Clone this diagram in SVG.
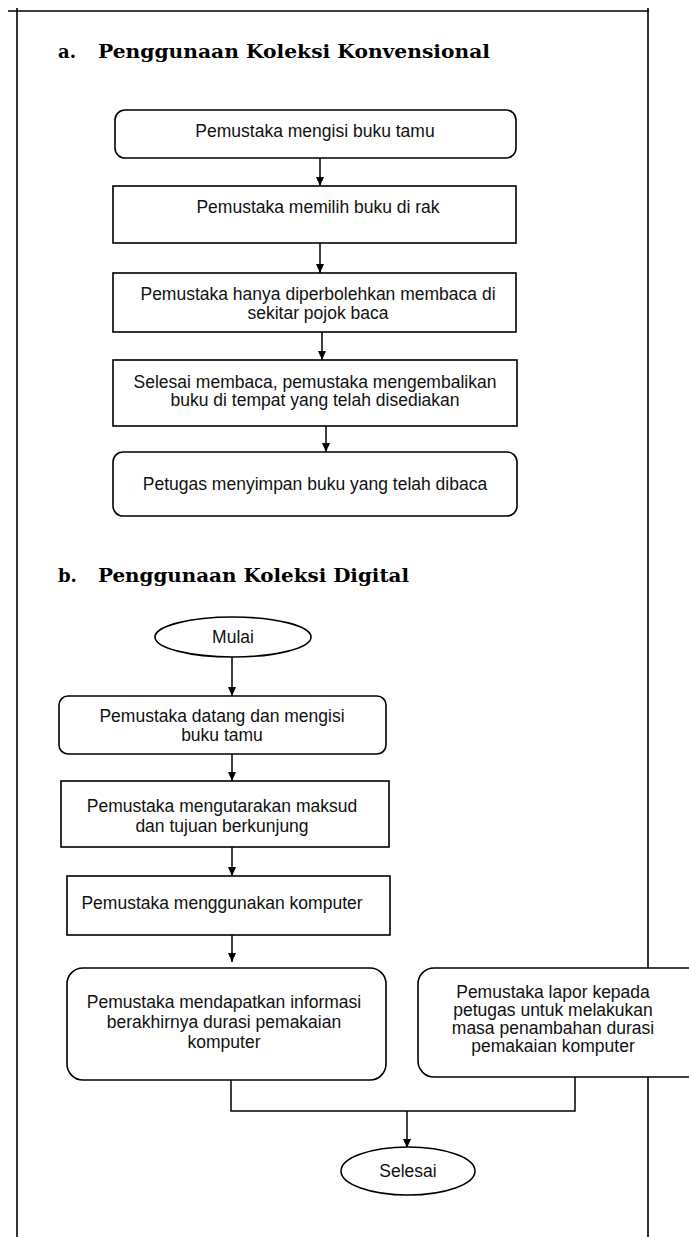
<svg xmlns="http://www.w3.org/2000/svg" width="689" height="1237" viewBox="0 0 689 1237">
<style>
.box{fill:#fff;stroke:#000;stroke-width:1.6}
.frame{fill:none;stroke:#000;stroke-width:1.6}
.con{fill:none;stroke:#000;stroke-width:1.5}
.t{font-family:"Liberation Sans",Arial,sans-serif;font-size:17.5px;fill:#111;text-anchor:middle}
.h{font-family:"DejaVu Serif","Liberation Serif",serif;font-weight:bold;font-size:18px;fill:#000}
</style>
<defs>
<marker id="arr" markerWidth="10" markerHeight="10" refX="9" refY="5" orient="auto" markerUnits="userSpaceOnUse">
<path d="M0,1 L9,5 L0,9 Z" fill="#000"/>
</marker>
</defs>
<rect width="689" height="1237" fill="#fff"/>
<g id="frame">
<line class="frame" x1="8" y1="11" x2="649" y2="11"/>
<line class="frame" x1="17" y1="8" x2="17" y2="1237"/>
<line class="frame" x1="648" y1="8" x2="648" y2="1237"/>
</g>
<g id="title-a">
<text class="h" x="58" y="58">a.</text>
<text class="h" x="98" y="58" textLength="392" lengthAdjust="spacingAndGlyphs">Penggunaan Koleksi Konvensional</text>
</g>
<g id="title-b">
<text class="h" x="58" y="582">b.</text>
<text class="h" x="98" y="582" textLength="311" lengthAdjust="spacingAndGlyphs">Penggunaan Koleksi Digital</text>
</g>
<g id="connectors">
<line class="con" x1="320" y1="158" x2="320" y2="186" marker-end="url(#arr)"/>
<line class="con" x1="320" y1="243" x2="320" y2="273" marker-end="url(#arr)"/>
<line class="con" x1="322" y1="332" x2="322" y2="360" marker-end="url(#arr)"/>
<line class="con" x1="326" y1="426" x2="326" y2="452" marker-end="url(#arr)"/>
<line class="con" x1="232" y1="657" x2="232" y2="696" marker-end="url(#arr)"/>
<line class="con" x1="232" y1="754" x2="232" y2="781" marker-end="url(#arr)"/>
<line class="con" x1="232" y1="847" x2="232" y2="876" marker-end="url(#arr)"/>
<line class="con" x1="232" y1="935" x2="232" y2="962" marker-end="url(#arr)"/>
<polyline class="con" points="231,1080 231,1111 575,1111 575,1077"/>
<line class="con" x1="407" y1="1111" x2="407" y2="1148" marker-end="url(#arr)"/>
</g>
<g id="n1">
<rect class="box" x="115" y="110" width="401" height="48" rx="10"/>
<text class="t" x="315" y="137">Pemustaka mengisi buku tamu</text>
</g>
<g id="n2">
<rect class="box" x="113" y="186" width="403" height="57"/>
<text class="t" x="318" y="213">Pemustaka memilih buku di rak</text>
</g>
<g id="n3">
<rect class="box" x="113" y="273" width="403" height="59"/>
<text class="t" x="318" y="300">Pemustaka hanya diperbolehkan membaca di</text>
<text class="t" x="318" y="319">sekitar pojok baca</text>
</g>
<g id="n4">
<rect class="box" x="113" y="360" width="404" height="66"/>
<text class="t" x="315" y="388">Selesai membaca, pemustaka mengembalikan</text>
<text class="t" x="315" y="406">buku di tempat yang telah disediakan</text>
</g>
<g id="n5">
<rect class="box" x="113" y="452" width="404" height="64" rx="10"/>
<text class="t" x="315" y="490">Petugas menyimpan buku yang telah dibaca</text>
</g>
<g id="mulai">
<ellipse class="box" cx="233" cy="637" rx="78" ry="20"/>
<text class="t" x="233" y="643">Mulai</text>
</g>
<g id="d1">
<rect class="box" x="59" y="696" width="327" height="58" rx="9"/>
<text class="t" x="222" y="722">Pemustaka datang dan mengisi</text>
<text class="t" x="222" y="741">buku tamu</text>
</g>
<g id="d2">
<rect class="box" x="61" y="781" width="328" height="66"/>
<text class="t" x="222" y="812">Pemustaka mengutarakan maksud</text>
<text class="t" x="222" y="832">dan tujuan berkunjung</text>
</g>
<g id="d3">
<rect class="box" x="67" y="876" width="323" height="59"/>
<text class="t" x="222" y="909">Pemustaka menggunakan komputer</text>
</g>
<g id="d4">
<rect class="box" x="67" y="968" width="319" height="112" rx="16"/>
<text class="t" x="224" y="1008">Pemustaka mendapatkan informasi</text>
<text class="t" x="224" y="1028">berakhirnya durasi pemakaian</text>
<text class="t" x="224" y="1048">komputer</text>
</g>
<g id="d5">
<rect class="box" x="418" y="968" width="290" height="109" rx="16"/>
<text class="t" x="553" y="998">Pemustaka lapor kepada</text>
<text class="t" x="553" y="1016">petugas untuk melakukan</text>
<text class="t" x="553" y="1034">masa penambahan durasi</text>
<text class="t" x="553" y="1052">pemakaian komputer</text>
</g>
<g id="selesai">
<ellipse class="box" cx="408" cy="1171" rx="67" ry="24"/>
<text class="t" x="408" y="1177">Selesai</text>
</g>
</svg>
